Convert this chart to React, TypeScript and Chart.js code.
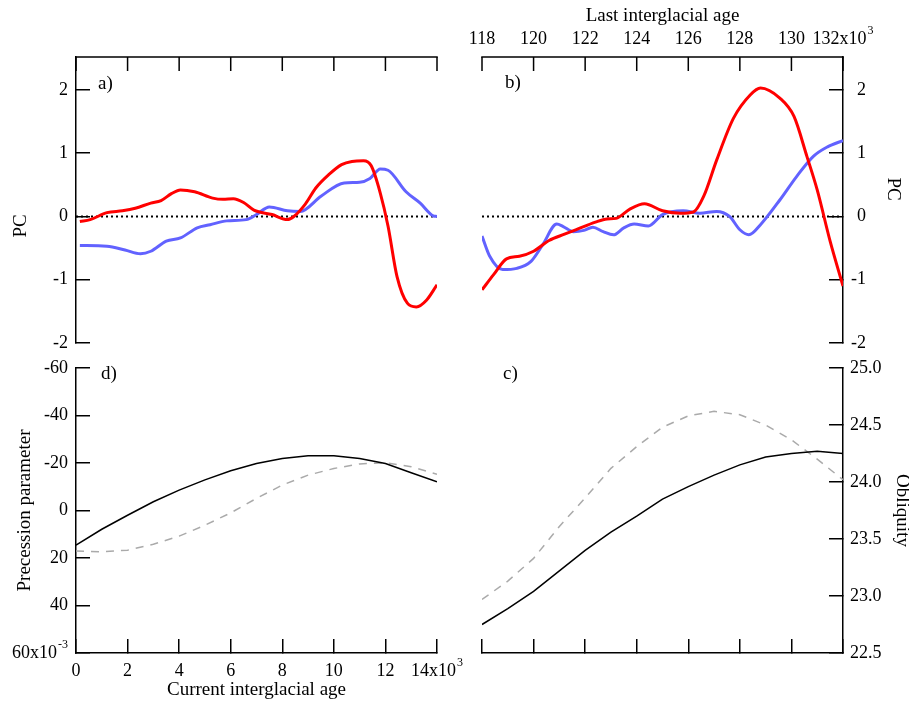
import React, { useEffect, useRef } from "react";
import { Chart, registerables } from "chart.js";

Chart.register(...registerables);

const SERIF = "'Liberation Serif', 'Times New Roman', serif";
Chart.defaults.font.family = SERIF;
Chart.defaults.color = "#000";

const W = 909;
const H = 701;

// tick values (ages in 10^3 yr)
const currentAgeTicks = [0, 2, 4, 6, 8, 10, 12, 14];
const lastAgeTicks = [118, 120, 122, 124, 126, 128, 130, 132];
const pcTicks = [-2, -1, 0, 1, 2];
const precessionTicks = [-60, -40, -20, 0, 20, 40, 60]; // x10^-3
const obliquityTicks = [22.5, 23, 23.5, 24, 24.5, 25];

// a) PCs, current interglacial
const aRedAge = [0.15, 0.55, 1.2, 1.8, 2.3, 2.9, 3.3, 3.7, 4.05, 4.6, 5.3, 5.7, 6.1, 6.5, 6.9, 7.6, 8.2, 8.45, 8.9, 9.3, 9.8, 10.3, 10.7, 11.15, 11.45, 11.8, 12.1, 12.45, 12.85, 13.2, 13.6, 14.0];
const aRedPC = [-0.08, -0.05, 0.06, 0.09, 0.13, 0.21, 0.25, 0.36, 0.42, 0.39, 0.29, 0.27, 0.28, 0.22, 0.1, 0.03, -0.05, 0.0, 0.2, 0.45, 0.66, 0.82, 0.87, 0.88, 0.8, 0.37, -0.15, -0.95, -1.37, -1.43, -1.32, -1.08];
const aBlueAge = [0.15, 1.2, 1.9, 2.5, 2.9, 3.5, 4.05, 4.7, 5.2, 5.85, 6.6, 7.0, 7.5, 8.2, 8.7, 9.5, 10.4, 11.0, 11.4, 11.8, 12.1, 12.8, 13.35, 13.85, 14.0];
const aBluePC = [-0.46, -0.47, -0.53, -0.59, -0.55, -0.39, -0.34, -0.18, -0.13, -0.07, -0.05, 0.03, 0.15, 0.09, 0.08, 0.32, 0.53, 0.54, 0.6, 0.75, 0.73, 0.39, 0.21, 0.01, 0.0];

// b) PCs, last interglacial
const bRedAge = [118, 118.45, 118.95, 119.45, 120, 120.6, 121.2, 121.7, 122.4, 122.85, 123.2, 123.75, 124.3, 125.0, 125.7, 126.2, 126.6, 127.1, 127.75, 128.4, 128.8, 129.55, 130.1, 130.6, 131.0, 131.5, 132];
const bRedPC = [-1.16, -0.92, -0.67, -0.63, -0.55, -0.38, -0.28, -0.2, -0.09, -0.04, -0.03, 0.12, 0.2, 0.09, 0.05, 0.07, 0.32, 0.89, 1.55, 1.92, 2.03, 1.87, 1.58, 0.95, 0.42, -0.39, -1.1];
const bBlueAge = [118, 118.3, 118.8, 119.35, 119.9, 120.35, 120.9, 121.15, 121.55, 121.95, 122.3, 122.7, 123.1, 123.5, 123.9, 124.45, 125.0, 125.8, 126.45, 127.1, 127.6, 128.0, 128.35, 128.8, 129.55, 130.2, 130.85, 131.4, 132];
const bBluePC = [-0.31, -0.63, -0.84, -0.82, -0.71, -0.45, -0.12, -0.16, -0.24, -0.22, -0.17, -0.24, -0.29, -0.18, -0.12, -0.15, 0.03, 0.09, 0.05, 0.08, 0.0, -0.21, -0.29, -0.13, 0.26, 0.63, 0.95, 1.1, 1.2];

// d) precession parameter
const orbitCurrentAge = [0, 1, 2, 3, 4, 5, 6, 7, 8, 9, 10, 11, 12, 13, 14];
const precessionSolid = [14.6, 7.9, 2.0, -3.7, -8.6, -12.9, -16.7, -19.8, -21.9, -23.1, -23.1, -21.9, -19.8, -15.9, -12.1];
const precessionDashed = [17.0, 17.4, 16.7, 14.2, 10.8, 6.2, 1.0, -5.1, -10.7, -14.9, -17.7, -19.6, -20.1, -18.4, -15.3];

// c) obliquity
const orbitLastAge = [118, 119, 120, 121, 122, 123, 124, 125, 126, 127, 128, 129, 130, 131, 132];
const obliquitySolid = [22.75, 22.89, 23.04, 23.22, 23.4, 23.56, 23.7, 23.85, 23.96, 24.06, 24.15, 24.22, 24.25, 24.27, 24.25];
const obliquityDashed = [22.97, 23.13, 23.33, 23.61, 23.86, 24.12, 24.31, 24.48, 24.58, 24.62, 24.59, 24.5, 24.37, 24.2, 24.02];

const RED = "#ff0000";
const BLUE = "#6262ff";
const GRAY = "#aaaaaa";
const TICK_LEN = 14;

const tickFont = { family: SERIF, size: 18 };
const titleFont = { family: SERIF, size: 19 };

const series = (xs: number[], ys: number[], color: string, width: number, dash: number[] = [], smooth = true) => ({
  data: xs.map((x, i) => ({ x, y: ys[i] })),
  borderColor: color,
  borderWidth: width,
  borderDash: dash,
  pointRadius: 0,
  fill: false,
  tension: smooth ? 0.4 : 0,
  cubicInterpolationMode: smooth ? "monotone" : "default",
});

// dotted zero line across the whole x range
const zeroLine = (ticks: number[]) =>
  series([ticks[0], ticks[ticks.length - 1]], [0, 0], "#000", 2, [2, 3], false);

const plain = (v: number) => String(v);
const except = (skip: number) => (v: number) => (v === skip ? "" : String(v));

const axis = (o: any) => {
  const ticks: any = {
    display: !!o.labels,
    font: tickFont,
    color: "#000",
    padding: o.padding ?? 21,
    crossAlign: o.crossAlign ?? "near",
    autoSkip: false,
    maxRotation: 0,
  };
  if (o.labels) ticks.callback = o.labels;
  // top axes get their line and ticks from the topAxisMarks plugin
  const onTop = o.position === "top";
  return {
    type: "linear",
    position: o.position,
    min: o.min,
    max: o.max,
    reverse: !!o.reverse,
    afterBuildTicks: (scale: any) => {
      scale.ticks = o.values.map((value: number) => ({ value }));
    },
    afterFit: (scale: any) => {
      if (scale.isHorizontal()) scale.height = o.size;
      else scale.width = o.size;
      scale.paddingLeft = scale.paddingRight = scale.paddingTop = scale.paddingBottom = 0;
    },
    border: { display: !onTop, color: "#000", width: 1.5 },
    grid: { display: !onTop, drawOnChartArea: false, tickLength: -TICK_LEN, color: "#000", lineWidth: 1.5 },
    ticks,
    title: o.title ? { display: true, font: titleFont, color: "#000", ...o.title } : { display: false },
  };
};

// axis line along the top of the plot area with inward ticks
const topAxisMarks = {
  id: "topAxisMarks",
  afterDraw(chart: any, _args: any, opts: any) {
    if (!opts.values) return;
    const { ctx, chartArea } = chart;
    const scale = chart.scales.x;
    ctx.save();
    ctx.setLineDash([]);
    ctx.globalAlpha = 1;
    ctx.globalCompositeOperation = "source-over";
    ctx.fillStyle = "#000";
    const top = chartArea.top;
    ctx.fillRect(chartArea.left - 0.75, top - 0.75, chartArea.right - chartArea.left + 1.5, 1.5);
    opts.values.forEach((v: number) => {
      const x = scale.getPixelForValue(v);
      ctx.fillRect(x - 0.75, top, 1.5, TICK_LEN);
    });
    ctx.restore();
  },
};

// tick labels with a power of ten, e.g. 14x10^3
const exponentLabels = {
  id: "exponentLabels",
  afterDraw(chart: any, _args: any, opts: any) {
    const { ctx } = chart;
    for (const item of opts.items || []) {
      const scale = chart.scales[item.scale];
      const gap = scale.options.ticks.padding - TICK_LEN;
      const pixel = scale.getPixelForValue(item.value);
      ctx.save();
      ctx.fillStyle = "#000";
      ctx.textBaseline = "middle";
      ctx.textAlign = "left";
      ctx.font = `18px ${SERIF}`;
      const baseW = ctx.measureText(item.base).width;
      ctx.font = `12px ${SERIF}`;
      const expW = ctx.measureText(item.exp).width;
      const total = baseW + 1 + expW;
      let x: number;
      let y: number;
      if (scale.isHorizontal()) {
        x = pixel - total / 2;
        y = scale.position === "top" ? scale.bottom - gap - 10.8 : scale.top + gap + 10.8;
      } else {
        x = scale.right - gap - total;
        y = pixel;
      }
      ctx.font = `18px ${SERIF}`;
      ctx.fillText(item.base, x, y);
      ctx.font = `12px ${SERIF}`;
      ctx.fillText(item.exp, x + baseW + 1, y - 8);
      ctx.restore();
    }
  },
};

// panel letters and the PC titles
const panelText = {
  id: "panelText",
  afterDraw(chart: any, _args: any, opts: any) {
    const { ctx } = chart;
    for (const t of opts.items || []) {
      ctx.save();
      ctx.translate(t.x, t.y);
      ctx.rotate(t.rotation || 0);
      ctx.font = `19px ${SERIF}`;
      ctx.fillStyle = "#000";
      ctx.textAlign = t.align || "center";
      ctx.textBaseline = "middle";
      ctx.fillText(t.text, 0, 0);
      ctx.restore();
    }
  },
};

const baseOptions = (padding: any, text: any[], exps: any[], topTicks: number[] | null, scales: any) => ({
  responsive: false,
  animation: false,
  events: [],
  layout: { padding },
  plugins: {
    legend: { display: false },
    tooltip: { enabled: false },
    panelText: { items: text },
    exponentLabels: { items: exps },
    topAxisMarks: { values: topTicks },
  },
  scales,
});

const chartPlugins = [panelText, exponentLabels, topAxisMarks];

// every panel is a full-page canvas; padding places its plot area
const configA = () => ({
  type: "line",
  data: {
    datasets: [
      series(aRedAge, aRedPC, RED, 3),
      series(aBlueAge, aBluePC, BLUE, 3),
      zeroLine(currentAgeTicks),
    ],
  },
  options: baseOptions(
    { left: 0, top: 0, right: W - 437, bottom: H - 343 },
    [
      { text: "a)", x: 98, y: 84, align: "left" },
      { text: "PC", x: 21, y: 226, rotation: -Math.PI / 2 },
    ],
    [],
    currentAgeTicks,
    {
      x: axis({ position: "top", min: 0, max: 14, values: currentAgeTicks, size: 57 }),
      y: axis({ position: "left", min: -2, max: 2.52, values: pcTicks, size: 76, labels: plain, padding: 22 }),
    }
  ),
  plugins: chartPlugins,
});

const configB = () => ({
  type: "line",
  data: {
    datasets: [
      series(bRedAge, bRedPC, RED, 3),
      series(bBlueAge, bBluePC, BLUE, 3),
      zeroLine(lastAgeTicks),
    ],
  },
  options: baseOptions(
    { left: 482, top: 0, right: W - 843 - 23, bottom: H - 343 },
    [
      { text: "b)", x: 505, y: 83, align: "left" },
      { text: "PC", x: 893, y: 189, rotation: Math.PI / 2 },
    ],
    [{ scale: "x", value: 132, base: "132x10", exp: "3" }],
    lastAgeTicks,
    {
      x: axis({
        position: "top", min: 118, max: 132, values: lastAgeTicks, size: 57, labels: except(132),
        title: { text: "Last interglacial age", padding: { top: 5, bottom: 0 } },
      }),
      y: axis({ position: "right", min: -2, max: 2.52, values: pcTicks, size: 23, labels: plain, crossAlign: "far" }),
    }
  ),
  plugins: chartPlugins,
});

const configD = () => ({
  type: "line",
  data: {
    datasets: [
      series(orbitCurrentAge, precessionSolid, "#000", 1.5, [], false),
      series(orbitCurrentAge, precessionDashed, GRAY, 1.5, [8, 7], false),
    ],
  },
  options: baseOptions(
    { left: 0, top: 368, right: W - 437, bottom: 0 },
    [{ text: "d)", x: 101, y: 374, align: "left" }],
    [
      { scale: "x", value: 14, base: "14x10", exp: "3" },
      { scale: "y", value: 60, base: "60x10", exp: "-3" },
    ],
    null,
    {
      x: axis({
        position: "bottom", min: 0, max: 14, values: currentAgeTicks, size: 48, labels: except(14),
        title: { text: "Current interglacial age", padding: { top: 0, bottom: 0 } },
      }),
      y: axis({
        position: "left", min: -60, max: 60, reverse: true, values: precessionTicks, size: 76,
        labels: except(60), padding: 22,
        title: { text: "Precession parameter", padding: { top: 14, bottom: 0 } },
      }),
    }
  ),
  plugins: chartPlugins,
});

const configC = () => ({
  type: "line",
  data: {
    datasets: [
      series(orbitLastAge, obliquitySolid, "#000", 1.5, [], false),
      series(orbitLastAge, obliquityDashed, GRAY, 1.5, [8, 7], false),
    ],
  },
  options: baseOptions(
    { left: 482, top: 368, right: 0, bottom: 0 },
    [{ text: "c)", x: 503, y: 374, align: "left" }],
    [],
    null,
    {
      x: axis({ position: "bottom", min: 118, max: 132, values: lastAgeTicks, size: 48 }),
      y: axis({
        position: "right", min: 22.5, max: 25, values: obliquityTicks, size: W - 843,
        labels: (v: number) => v.toFixed(1),
        title: { text: "Obliquity", padding: { top: -4, bottom: 0 } },
      }),
    }
  ),
  plugins: chartPlugins,
});

const Panel: React.FC<{ config: () => any }> = ({ config }) => {
  const ref = useRef<HTMLCanvasElement | null>(null);

  useEffect(() => {
    if (!ref.current) return;
    const chart = new Chart(ref.current, config());
    return () => {
      chart.destroy();
    };
  }, []);

  return (
    <canvas
      ref={ref}
      width={W}
      height={H}
      style={{ position: "absolute", left: 0, top: 0, width: W, height: H }}
    />
  );
};

const App: React.FC = () => (
  <div style={{ position: "absolute", left: 0, top: 0, width: W, height: H, background: "#fff", overflow: "hidden" }}>
    <Panel config={configA} />
    <Panel config={configB} />
    <Panel config={configD} />
    <Panel config={configC} />
  </div>
);

export default App;
